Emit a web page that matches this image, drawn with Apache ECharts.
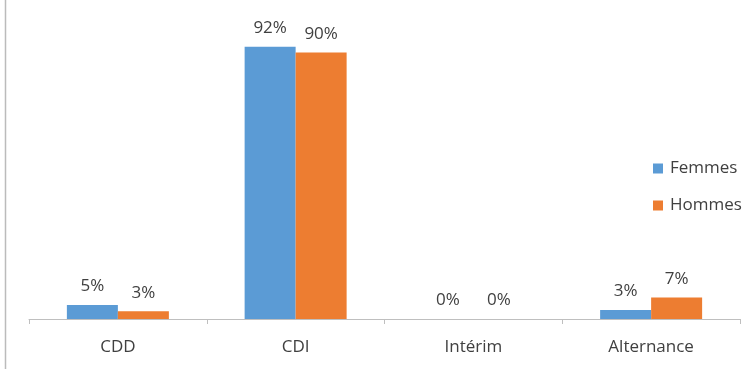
<!DOCTYPE html>
<html><head><meta charset="utf-8">
<script src="https://cdn.jsdelivr.net/npm/echarts@6/dist/echarts.min.js"></script>
<style>html,body{margin:0;padding:0;background:#fff}#c{width:753px;height:369px}</style>
</head><body><div id="c"></div>
<script>
const categories = ['CDD', 'CDI', 'Intérim', 'Alternance'];
const femmes = [4.7, 92, 0, 3.0];
const hommes = [2.6, 90, 0, 7.3];
const seriesNames = ['Femmes', 'Hommes'];

const font = 'Open Sans';
const chart = echarts.init(document.getElementById('c'), null, {renderer: 'canvas'});
const lbl = {show: true, position: 'top', distance: 10, fontFamily: font, fontSize: 17, color: '#404040',
  formatter: p => Math.round(p.value) + '%'};
chart.setOption({
  animation: false,
  backgroundColor: '#fff',
  grid: {left: 29, right: 13, top: 23, bottom: 50},
  legend: {orient: 'vertical', left: 653, top: 160, itemWidth: 10, itemHeight: 10, itemGap: 20,
    icon: 'rect', textStyle: {fontFamily: font, fontSize: 17, color: '#404040', padding: [0, 0, 0, 2]},
    data: seriesNames, padding: 0},
  xAxis: {type: 'category', data: categories,
    axisLine: {lineStyle: {color: '#bfbfbf', width: 1}},
    axisTick: {show: true, length: 5, lineStyle: {color: '#bfbfbf'}},
    axisLabel: {margin: 20, fontFamily: font, fontSize: 17, color: '#404040'}},
  yAxis: {type: 'value', min: 0, max: 100, show: false, splitLine: {show: false}},
  graphic: [{type: 'line', shape: {x1: 5.5, y1: 0, x2: 5.5, y2: 369}, style: {stroke: '#bbbbbb', lineWidth: 1.5}}],
  series: [
    {name: seriesNames[0], type: 'bar', data: femmes, barWidth: 51, barGap: '0%', itemStyle: {color: '#5b9bd5'}, label: lbl},
    {name: seriesNames[1], type: 'bar', data: hommes, barWidth: 51, itemStyle: {color: '#ed7d31'}, label: lbl}
  ]
});
</script></body></html>
